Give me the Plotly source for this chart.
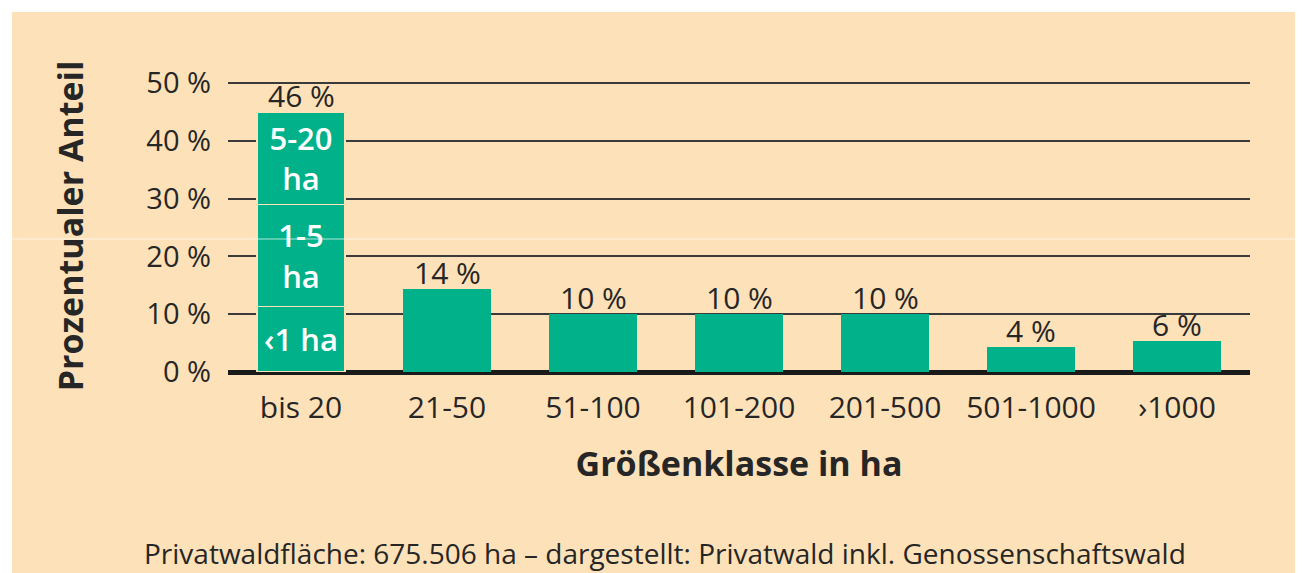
import plotly.graph_objects as go

# data
categories = ['bis 20', '21-50', '51-100', '101-200', '201-500', '501-1000', '›1000']
bar_labels = ['46 %', '14 %', '10 %', '10 %', '10 %', '4 %', '6 %']
rest_values = [14.4, 10, 10, 10, 4.3, 5.4]

# the first column is split by parcel size
split_names = ['‹1 ha', '1-5<br>ha', '5-20<br>ha']
split_values = [11.3, 17.7, 16.0]

green = '#00B189'
peach = '#FDE1B8'
dark = '#262626'
font = 'Open Sans, Noto Sans, sans-serif'

# page body has an 8px margin, so the figure is a bit smaller than the window
W, H = 1295, 565
L, R, T, B = 220, 53, 72, 201
ph = H - T - B
pw = W - L - R

fig = go.Figure()

for name, val in zip(split_names, split_values):
    fig.add_trace(go.Bar(
        x=[categories[0]], y=[val], text=[name],
        textposition='inside', insidetextanchor='middle',
        textfont=dict(color='white', size=31, family=font, weight=600),
        marker=dict(color=green, line=dict(color=peach, width=1.5)),
        width=0.6, showlegend=False,
    ))

fig.add_trace(go.Bar(
    x=categories[1:], y=rest_values,
    marker=dict(color=green, line=dict(width=0)),
    width=0.6, showlegend=False,
))

tops = [sum(split_values)] + rest_values
for cat, top, lab in zip(categories, tops, bar_labels):
    fig.add_annotation(x=cat, y=top, text=lab, showarrow=False,
                       yanchor='bottom', yshift=-6,
                       font=dict(size=30, color=dark, family=font))

fig.update_layout(
    width=W, height=H,
    margin=dict(l=L, r=R, t=T, b=B, autoexpand=False),
    paper_bgcolor='white',
    plot_bgcolor=peach,
    barmode='stack',
    font=dict(family=font, color=dark),
)

fig.update_xaxes(
    range=[-0.5, 6.5], showgrid=False, showline=False,
    tickfont=dict(size=30, color=dark, family=font),
    ticklabelstandoff=15,
    title=dict(text='<b>Größenklasse in ha</b>', font=dict(size=34, color=dark, family=font),
               standoff=26),
)
fig.update_yaxes(
    range=[0, 50.5], tickvals=[0, 10, 20, 30, 40, 50],
    ticktext=['0 %', '10 %', '20 %', '30 %', '40 %', '50 %'],
    tickfont=dict(size=29, color=dark, family=font),
    ticklabelstandoff=16,
    showgrid=True, gridcolor='#3a3a3a', gridwidth=2,
    zeroline=True, zerolinecolor='#1a1a1a', zerolinewidth=5,
    title=dict(text='<b>Prozentualer Anteil</b>', font=dict(size=34, color=dark, family=font),
               standoff=52),
)

# peach card behind everything, white rim at top and left
fig.add_shape(type='rect', xref='paper', yref='paper', layer='below',
              x0=(4 - L) / pw, x1=1.2, y0=-0.9, y1=(H - B - 4) / ph,
              fillcolor=peach, line=dict(width=0))
# faint scan line across the page
fig.add_shape(type='line', xref='paper', yref='paper', layer='above',
              x0=-0.3, x1=1.2, y0=(H - B - 231) / ph, y1=(H - B - 231) / ph,
              line=dict(color='white', width=1), opacity=0.7)

fig.add_annotation(
    xref='paper', yref='paper', x=(657 - L) / pw, y=(H - B - 545) / ph,
    text='Privatwaldfläche: 675.506 ha – dargestellt: Privatwald inkl. Genossenschaftswald',
    showarrow=False, yanchor='middle',
    font=dict(size=28, color=dark, family=font),
)

fig.write_html('out.html')
